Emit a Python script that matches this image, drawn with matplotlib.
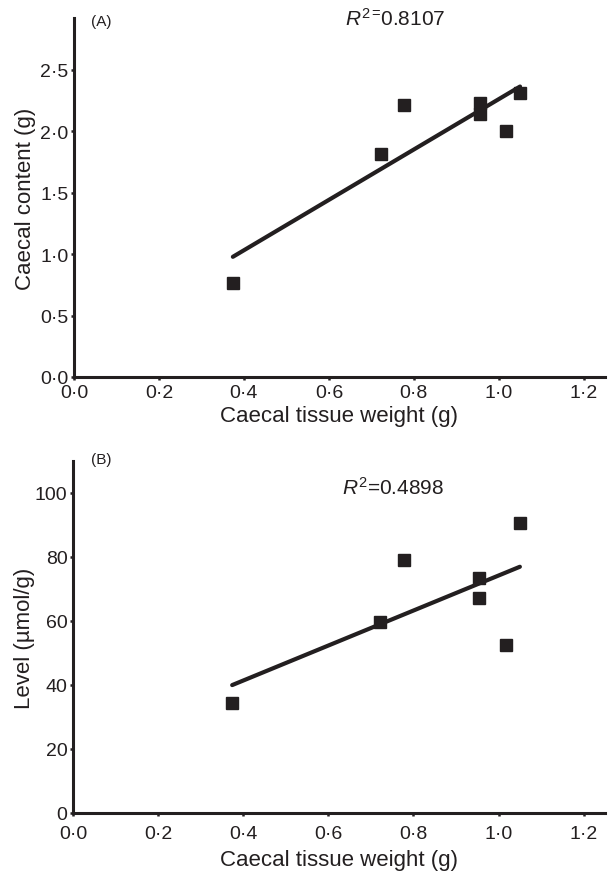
import matplotlib
matplotlib.use("Agg")
import matplotlib.pyplot as plt
import numpy as np

plt.rcParams['font.family'] = ['Liberation Sans', 'DejaVu Sans']
plt.rcParams['mathtext.fontset'] = 'custom'
plt.rcParams['mathtext.rm'] = 'Liberation Sans'
plt.rcParams['mathtext.it'] = 'Liberation Sans:italic'

# Data
tissue_weight = [0.374, 0.722, 0.777, 0.955, 0.955, 1.017, 1.050]
caecal_content = [0.765, 1.81, 2.21, 2.23, 2.14, 2.00, 2.31]
level_umol = [34.3, 59.6, 79.1, 73.4, 67.2, 52.5, 90.5]

x_ticks = [0.0, 0.2, 0.4, 0.6, 0.8, 1.0, 1.2]
x_tick_labels = ['0·0', '0·2', '0·4', '0·6', '0·8', '1·0', '1·2']
a_yticks = [0.0, 0.5, 1.0, 1.5, 2.0, 2.5]
a_ytick_labels = ['0·0', '0·5', '1·0', '1·5', '2·0', '2·5']
b_yticks = [0, 20, 40, 60, 80, 100]
b_ytick_labels = ['0', '20', '40', '60', '80', '100']

r2_a = '0.8107'
r2_b = '0.4898'

INK = '#231f20'
W, H = 608, 879
fig = plt.figure(figsize=(W / 100, H / 100), dpi=100)

def make_ax(left_px, top_px, right_px, bottom_px):
    return fig.add_axes([left_px / W, 1 - bottom_px / H,
                         (right_px - left_px) / W, (bottom_px - top_px) / H])

axA = make_ax(74, 19, 605, 378)
axB = make_ax(73, 462, 605, 814)

def style(ax, ylim, yticks, ylabels, ylabel, xpad, xlabelpad, ylabelpad):
    ax.set_xlim(0, 1.25)
    ax.set_ylim(*ylim)
    for s in ['top', 'right']:
        ax.spines[s].set_visible(False)
    for s in ['left', 'bottom']:
        ax.spines[s].set_linewidth(2.2)
        ax.spines[s].set_color(INK)
    ax.set_xticks(x_ticks)
    ax.set_xticklabels(x_tick_labels)
    ax.set_yticks(yticks)
    ax.set_yticklabels(ylabels)
    ax.tick_params(axis='both', direction='out', length=2.5, width=1.8,
                   colors=INK, labelsize=14)
    ax.tick_params(axis='y', pad=1.5)
    ax.tick_params(axis='x', pad=xpad)
    ax.set_xlabel('Caecal tissue weight (g)', fontsize=16, color=INK, labelpad=xlabelpad)
    ax.set_ylabel(ylabel, fontsize=16, color=INK, labelpad=ylabelpad)

style(axA, (0, 2.92), a_yticks, a_ytick_labels, 'Caecal content (g)', 2.5, 3, 3)
style(axB, (0, 110), b_yticks, b_ytick_labels, 'Level (µmol/g)', 6, 5, 0)

for ax, yv in ((axA, caecal_content), (axB, level_umol)):
    x = np.array(tissue_weight)
    y = np.array(yv)
    slope, intercept = np.polyfit(x, y, 1)
    xs = np.array([x.min(), x.max()])
    ax.plot(xs, slope * xs + intercept, color=INK, lw=3, solid_capstyle='round', zorder=2)
    ax.plot(x, y, linestyle='none', marker='s', markersize=8, color=INK, zorder=3,
            clip_on=False)

fig.text(101 / W, 1 - 22 / H, '(A)', fontsize=11, color=INK, ha='center', va='center')
fig.text(101 / W, 1 - 460 / H, '(B)', fontsize=11, color=INK, ha='center', va='center')
fig.text(395 / W, 1 - 19 / H, r'$\mathit{R}^{2=}\!\mathregular{' + r2_a + '}$',
         fontsize=15, color=INK, ha='center', va='center')
fig.text(393 / W, 1 - 488 / H, r'$\mathit{R}^{2}$=' + r2_b, fontsize=15, color=INK,
         ha='center', va='center')

fig.savefig('out.png', dpi=100)
